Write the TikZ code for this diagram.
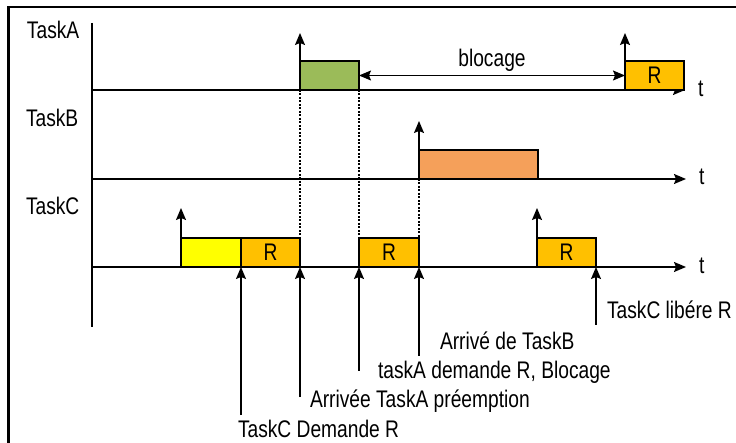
\documentclass[tikz,border=0pt]{standalone}
\usepackage{fontspec}
\setmainfont{Liberation Sans}[FakeStretch=0.8]
\usetikzlibrary{arrows.meta}
\definecolor{gA}{HTML}{9BBB59}
\definecolor{oB}{HTML}{F5A05A}
\definecolor{rC}{HTML}{FFC000}
\definecolor{yC}{HTML}{FFFF00}
\newcommand\labfont{\fontsize{24}{24}\selectfont}
\tikzset{
  arr/.style={-{Stealth[length=12pt,width=10pt,inset=2pt]}},
  dbl/.style={{Stealth[length=12pt,width=10pt,inset=2pt]}-{Stealth[length=12pt,width=10pt,inset=2pt]}, line width=1.3pt},
  axis/.style={line width=1.6pt, arr},
  frameline/.style={line width=2.8pt},
  box/.style={draw, line width=1.4pt, inner sep=0pt, outer sep=0pt, minimum height=29pt, anchor=south west, font=\labfont},
  uparr/.style={line width=1.4pt, arr},
  guide/.style={line width=1.2pt, dash pattern=on 2pt off 1.5pt},
  note/.style={line width=1.3pt, arr},
  lab/.style={inner sep=0pt, outer sep=0pt, anchor=base west, font=\labfont}
}
\begin{document}
\begin{tikzpicture}[x=1pt,y=-1pt]
\useasboundingbox (0,0) rectangle (736,443);
% frame
\draw[frameline] (8.5,443) -- (8.5,7) -- (736,7);
% vertical axis
\coordinate (vtop) at (92,23);
\coordinate (vbot) at (92,327);
\draw[line width=1.6pt] (vtop) -- (vbot);
% time axes
\coordinate (a0) at (92,90);  \coordinate (a1) at (685,90);
\coordinate (b0) at (92,179); \coordinate (b1) at (686,179);
\coordinate (c0) at (92,267); \coordinate (c1) at (686,267);
\draw[axis] (a0) -- (a1);
\draw[axis] (b0) -- (b1);
\draw[axis] (c0) -- (c1);
\node[lab] (tA) at (698,97) {t};
\node[lab] (tB) at (699,185) {t};
\node[lab] (tC) at (699,274) {t};
% task labels
\node[lab] (lA) at (27,38.5) {TaskA};
\node[lab] (lB) at (26,127) {TaskB};
\node[lab] (lC) at (26,215) {TaskC};
% dotted guides (drawn before boxes)
\coordinate (g1t) at (300,90);  \coordinate (g1b) at (300,238);
\coordinate (g2t) at (359,90);  \coordinate (g2b) at (359,238);
\coordinate (g3t) at (419,179); \coordinate (g3b) at (419,238);
\draw[guide] (g1t) -- (g1b);
\draw[guide] (g2t) -- (g2b);
\draw[guide] (g3t) -- (g3b);
% boxes
\node[box, fill=gA, minimum width=59pt] (ga) at (300,90) {};
\node[box, fill=rC, minimum width=59pt] (ra) at (625,90) {R};
\node[box, fill=oB, minimum width=119pt] (bb) at (419,179) {};
\node[box, fill=yC, minimum width=60pt] (yc) at (181,267) {};
\node[box, fill=rC, minimum width=59pt] (r1) at (241,267) {R};
\node[box, fill=rC, minimum width=60pt] (r2) at (359,267) {R};
\node[box, fill=rC, minimum width=59pt] (r3) at (537,267) {R};
% arrival arrows
\coordinate (ua1) at (300,33);
\coordinate (ua2) at (625,33);
\coordinate (ub1) at (419,121);
\coordinate (uc1) at (181,208);
\coordinate (uc2) at (537,208);
\draw[uparr] (ga.south west) -- (ua1);
\draw[uparr] (ra.south west) -- (ua2);
\draw[uparr] (bb.south west) -- (ub1);
\draw[uparr] (yc.south west) -- (uc1);
\draw[uparr] (r3.south west) -- (uc2);
% blocage
\draw[dbl] (ga.east) -- (ra.west);
\node[lab, anchor=base] (blk) at (492,67) {blocage};
% event notes
\coordinate (n1) at (241,415);
\coordinate (n2) at (300,397);
\coordinate (n3) at (359,371);
\coordinate (n4) at (419,356);
\coordinate (n5) at (596,325);
\draw[note] (n1) -- (r1.south west);
\draw[note] (n2) -- (r1.south east);
\draw[note] (n3) -- (r2.south west);
\draw[note] (n4) -- (r2.south east);
\draw[note] (n5) -- (r3.south east);
\node[lab] (e1) at (238,437) {TaskC Demande R};
\node[lab] (e2) at (310,407) {Arrivée TaskA préemption};
\node[lab] (e3) at (378,378) {taskA demande R, Blocage};
\node[lab] (e4) at (440,349) {Arrivé de TaskB};
\node[lab] (e5) at (607,319) {TaskC libére R};
\end{tikzpicture}
\end{document}
